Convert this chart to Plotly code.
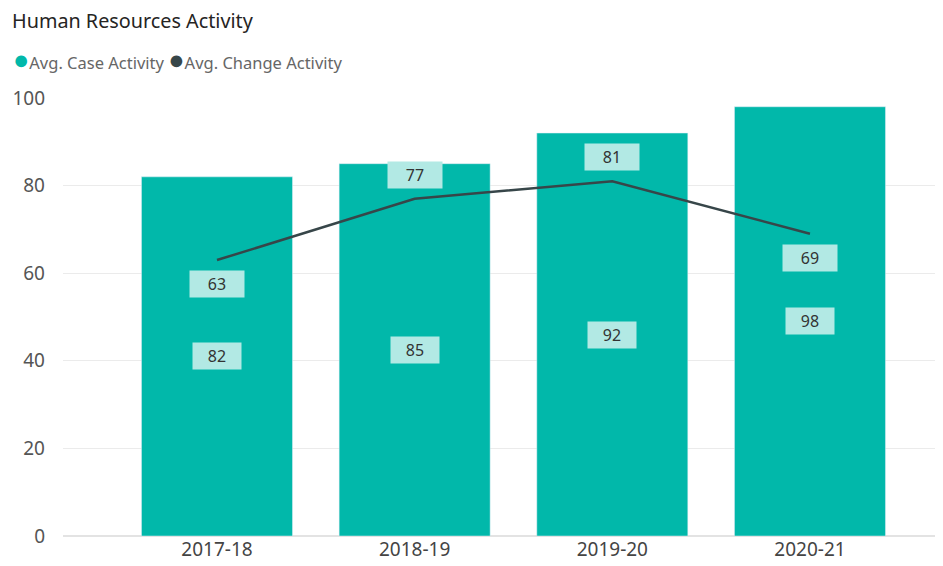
import plotly.graph_objects as go

categories = ["2017-18", "2018-19", "2019-20", "2020-21"]
case_activity = [82, 85, 92, 98]
change_activity = [63, 77, 81, 69]
change_label_side = [-1, 1, 1, -1]  # label below (-1) or above (+1) the line point
y_ticks = [0, 20, 40, 60, 80, 100]

BAR = "#01B8AA"
LINE = "#374649"
LABEL_BG = "#B2E9E4"
FONT = "Segoe UI, Noto Sans, Open Sans, sans-serif"

W, H = 935, 558
ML, MT, MB = 55, 90, 30
PW, PH = W - ML, H - MT - MB

fig = go.Figure()
fig.add_trace(go.Bar(x=categories, y=case_activity, marker_color=BAR, width=0.764,
                     name="Avg. Case Activity", showlegend=False, hoverinfo="y"))
fig.add_trace(go.Scatter(x=categories, y=change_activity, mode="lines",
                         line=dict(color=LINE, width=2.5),
                         name="Avg. Change Activity", showlegend=False))

annotations = []
for c, v in zip(categories, case_activity):
    annotations.append(dict(x=c, y=v / 2, xref="x", yref="y", text=str(v), showarrow=False,
                            bgcolor=LABEL_BG, width=44, height=22, borderpad=2,
                            font=dict(family=FONT, size=16, color="#333333")))
for c, v, s in zip(categories, change_activity, change_label_side):
    annotations.append(dict(x=c, y=v, xref="x", yref="y", text=str(v), showarrow=False,
                            yshift=24 * s, bgcolor=LABEL_BG, width=50, height=22, borderpad=2,
                            font=dict(family=FONT, size=16, color="#333333")))

fig.update_layout(
    width=W, height=H,
    margin=dict(l=ML, r=0, t=MT, b=MB),
    paper_bgcolor="white", plot_bgcolor="white",
    font=dict(family=FONT, color="#666666"),
    title=dict(text="Human Resources Activity", x=4 / W, xanchor="left",
               y=1 - 13 / H, yanchor="middle",
               font=dict(family=FONT, size=19.8, color="#252423")),
    bargap=0.2,
    xaxis=dict(range=[-0.779, 3.673], showgrid=False, zeroline=False, showline=False,
               tickfont=dict(family=FONT, size=19, color="#444444"), ticks=""),
    yaxis=dict(range=[0, 100], tickvals=y_ticks, showgrid=True, gridcolor="#EBEBEB",
               gridwidth=1, zeroline=True, zerolinecolor="#E3E3E3", showline=False,
               ticklabelstandoff=17,
               tickfont=dict(family=FONT, size=19, color="#555555")),
    annotations=annotations,
)

# legend drawn as an annotation with circle glyphs
fig.add_annotation(x=-52 / PW, y=1 + 40 / PH, xref="paper", yref="paper",
                   xanchor="left", yanchor="middle", showarrow=False,
                   text=f"<span style='color:{BAR};font-size:27px'>●</span><span style='font-size:16.5px'>Avg. Case Activity</span> "
                        f"<span style='color:{LINE};font-size:27px'>●</span><span style='font-size:16.5px'>Avg. Change Activity</span>",
                   font=dict(family=FONT, size=16.5, color="#666666"))

fig.write_html("out.html")
